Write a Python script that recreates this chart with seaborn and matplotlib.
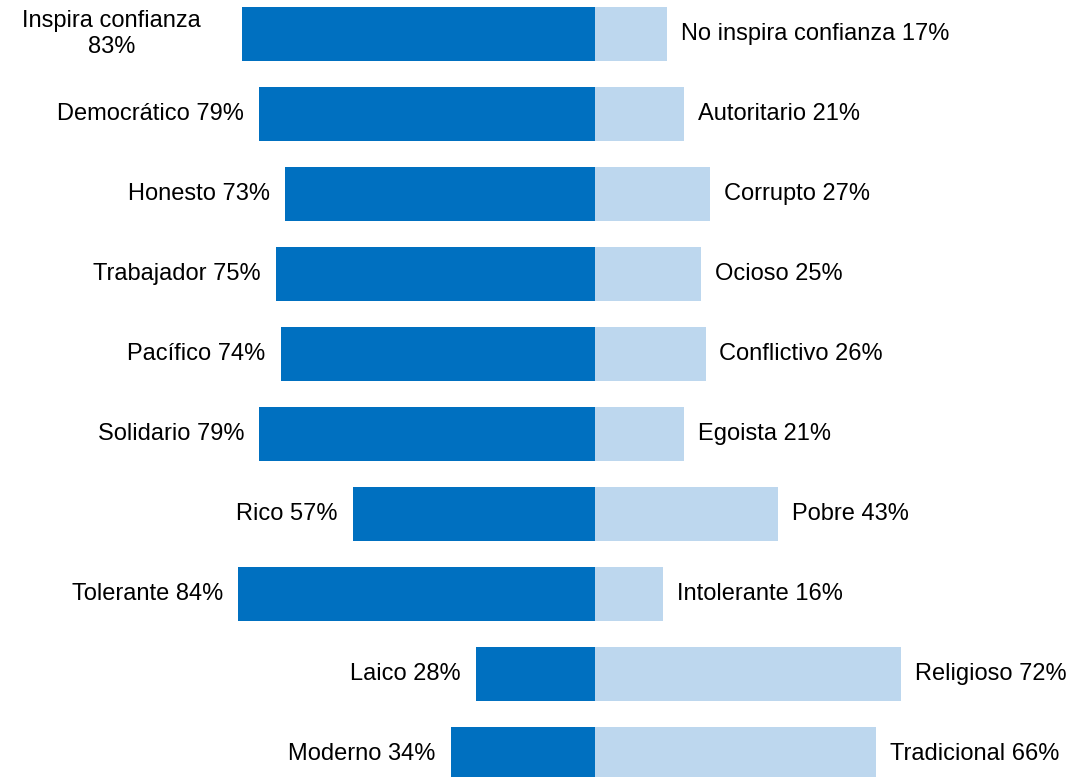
import matplotlib
matplotlib.use('Agg')
import matplotlib.pyplot as plt
import seaborn as sns
import pandas as pd

# Left side (positive traits) and right side (opposite traits)
left_labels = ["Inspira confianza", "Democrático", "Honesto", "Trabajador", "Pacífico",
               "Solidario", "Rico", "Tolerante", "Laico", "Moderno"]
left_values = [83, 79, 73, 75, 74, 79, 57, 84, 28, 34]
right_labels = ["No inspira confianza", "Autoritario", "Corrupto", "Ocioso", "Conflictivo",
                "Egoista", "Pobre", "Intolerante", "Religioso", "Tradicional"]
right_values = [17, 21, 27, 25, 26, 21, 43, 16, 72, 66]

DARK = "#0070C0"
LIGHT = "#BDD7EE"

sns.set_style("white")
plt.rcParams['font.family'] = ['Liberation Sans', 'DejaVu Sans']
plt.rcParams['text.color'] = 'black'

rows = [str(i) for i in range(len(left_labels))]
df = pd.DataFrame({
    "row": rows,
    "left": [-v for v in left_values],
    "right": right_values,
})

fig = plt.figure(figsize=(10.89, 7.77), dpi=100)
ax = fig.add_axes([0, 0, 1, 1])

sns.barplot(data=df, y="row", x="left", order=rows, color=DARK, width=0.675,
            saturation=1, edgecolor="none", ax=ax)
sns.barplot(data=df, y="row", x="right", order=rows, color=LIGHT, width=0.675,
            saturation=1, edgecolor="none", ax=ax)

for i in range(len(rows)):
    lv = left_values[i]
    rv = right_values[i]
    if i == 0:
        ax.annotate(f"{left_labels[i]}\n{lv}%", xy=(-lv, i), xytext=(-30, 0),
                    textcoords="offset points", ha="right", va="center",
                    multialignment="center", fontsize=17, linespacing=1.25,
                    color="black")
    else:
        ax.annotate(f"{left_labels[i]} {lv}%", xy=(-lv, i), xytext=(-11, 0),
                    textcoords="offset points", ha="right", va="center",
                    fontsize=17, color="black")
    ax.annotate(f"{right_labels[i]} {rv}%", xy=(rv, i), xytext=(10, 0),
                textcoords="offset points", ha="left", va="center",
                fontsize=17, color="black")

ax.set_xlim(-140.0, 116.2)
ax.set_ylim(9.2875, -0.425)
ax.axis("off")

fig.savefig("out.png", dpi=100)
plt.close(fig)
